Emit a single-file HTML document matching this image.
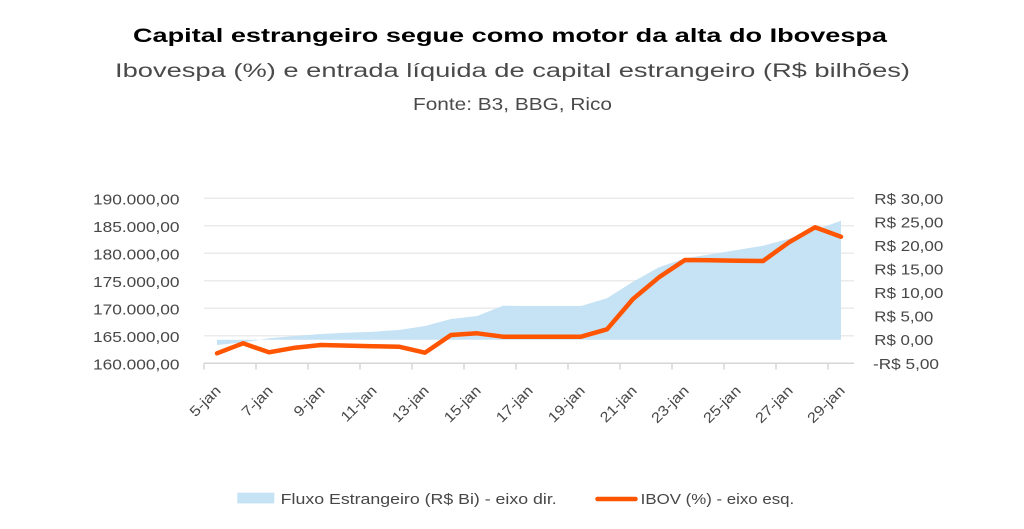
<!DOCTYPE html>
<html>
<head>
<meta charset="utf-8">
<style>
  html, body { margin: 0; padding: 0; background: #ffffff; }
  body { width: 1024px; height: 529px; overflow: hidden; }
  svg { display: block; }
  text { font-family: "Liberation Sans", "DejaVu Sans", sans-serif; }
</style>
</head>
<body>
<svg width="1024" height="529" viewBox="0 0 1024 529" xmlns="http://www.w3.org/2000/svg">
  <rect x="0" y="0" width="1024" height="529" fill="#ffffff"/>

  <!-- Titles -->
  <text x="133" y="42" font-size="19.5" font-weight="bold" fill="#000" textLength="754" lengthAdjust="spacingAndGlyphs">Capital estrangeiro segue como motor da alta do Ibovespa</text>
  <text x="115" y="77" font-size="19" fill="#4a4a4a" textLength="795" lengthAdjust="spacingAndGlyphs">Ibovespa (%) e entrada líquida de capital estrangeiro (R$ bilhões)</text>
  <text x="413" y="110" font-size="17.5" fill="#4a4a4a" textLength="199" lengthAdjust="spacingAndGlyphs">Fonte: B3, BBG, Rico</text>

  <!-- Gridlines -->
  <g stroke="#ebebeb" stroke-width="1.5">
    <line x1="204" y1="198.3" x2="854" y2="198.3"/>
    <line x1="204" y1="225.8" x2="854" y2="225.8"/>
    <line x1="204" y1="253.3" x2="854" y2="253.3"/>
    <line x1="204" y1="280.8" x2="854" y2="280.8"/>
    <line x1="204" y1="308.3" x2="854" y2="308.3"/>
    <line x1="204" y1="335.8" x2="854" y2="335.8"/>
  </g>

  <!-- Area (Fluxo estrangeiro) -->
  <polygon fill="#c6e2f5" points="
    217,339.7 217,345 243,342.5 269,338.3 295,336 321,334 347,332.7 373,331.7 399,330 425,326 451,319 477,316 503,305.7 529,306 555,306 581,306 607,298.3 633,281.7 659,267.3 685,258.3 711,254.2 737,250 763,245.7 789,238.8 815,230 841,220.7 841,339.7"/>

  <!-- X axis -->
  <g stroke="#d6d6d6" stroke-width="1.5">
    <line x1="204" y1="363.3" x2="854" y2="363.3"/>
    <line x1="204" y1="363.3" x2="204" y2="369.5"/>
    <line x1="256" y1="363.3" x2="256" y2="369.5"/>
    <line x1="308" y1="363.3" x2="308" y2="369.5"/>
    <line x1="360" y1="363.3" x2="360" y2="369.5"/>
    <line x1="412" y1="363.3" x2="412" y2="369.5"/>
    <line x1="464" y1="363.3" x2="464" y2="369.5"/>
    <line x1="516" y1="363.3" x2="516" y2="369.5"/>
    <line x1="568" y1="363.3" x2="568" y2="369.5"/>
    <line x1="620" y1="363.3" x2="620" y2="369.5"/>
    <line x1="672" y1="363.3" x2="672" y2="369.5"/>
    <line x1="724" y1="363.3" x2="724" y2="369.5"/>
    <line x1="776" y1="363.3" x2="776" y2="369.5"/>
    <line x1="828" y1="363.3" x2="828" y2="369.5"/>
  </g>

  <!-- IBOV line -->
  <polyline fill="none" stroke="#ff5500" stroke-width="4.5" stroke-linejoin="round" stroke-linecap="round" points="
    217,353.3 243,343.3 269,352.3 295,347.7 321,345 347,345.6 373,346.2 399,346.7 425,352.7 451,335 477,333.3 503,336.7 529,336.7 555,336.7 581,336.7 607,329.3 633,299 659,277.3 685,260 711,260.3 737,260.7 763,261 789,242.3 815,227.3 841,236.7"/>

  <!-- Left axis labels -->
  <g font-size="15" fill="#474747" text-anchor="end">
    <text x="179.5" y="204.3" textLength="86.5" lengthAdjust="spacingAndGlyphs">190.000,00</text>
    <text x="179.5" y="231.8" textLength="86.5" lengthAdjust="spacingAndGlyphs">185.000,00</text>
    <text x="179.5" y="259.3" textLength="86.5" lengthAdjust="spacingAndGlyphs">180.000,00</text>
    <text x="179.5" y="286.8" textLength="86.5" lengthAdjust="spacingAndGlyphs">175.000,00</text>
    <text x="179.5" y="314.3" textLength="86.5" lengthAdjust="spacingAndGlyphs">170.000,00</text>
    <text x="179.5" y="341.8" textLength="86.5" lengthAdjust="spacingAndGlyphs">165.000,00</text>
    <text x="179.5" y="369.3" textLength="86.5" lengthAdjust="spacingAndGlyphs">160.000,00</text>
  </g>

  <!-- Right axis labels -->
  <g font-size="15" fill="#474747">
    <text x="874.3" y="203.8" textLength="69" lengthAdjust="spacingAndGlyphs">R$ 30,00</text>
    <text x="874.3" y="227.4" textLength="69" lengthAdjust="spacingAndGlyphs">R$ 25,00</text>
    <text x="874.3" y="250.9" textLength="69" lengthAdjust="spacingAndGlyphs">R$ 20,00</text>
    <text x="874.3" y="274.5" textLength="69" lengthAdjust="spacingAndGlyphs">R$ 15,00</text>
    <text x="874.3" y="298.1" textLength="69" lengthAdjust="spacingAndGlyphs">R$ 10,00</text>
    <text x="874.3" y="321.6" textLength="59" lengthAdjust="spacingAndGlyphs">R$ 5,00</text>
    <text x="874.3" y="345.2" textLength="59" lengthAdjust="spacingAndGlyphs">R$ 0,00</text>
    <text x="873" y="368.8" textLength="66" lengthAdjust="spacingAndGlyphs">-R$ 5,00</text>
  </g>

  <!-- X axis labels -->
  <g font-size="14.5" fill="#474747" text-anchor="end">
    <text transform="translate(221.7,391.5) rotate(-45)" textLength="37" lengthAdjust="spacingAndGlyphs">5-jan</text>
    <text transform="translate(273.7,391.5) rotate(-45)" textLength="37" lengthAdjust="spacingAndGlyphs">7-jan</text>
    <text transform="translate(325.7,391.5) rotate(-45)" textLength="37" lengthAdjust="spacingAndGlyphs">9-jan</text>
    <text transform="translate(377.7,391.5) rotate(-45)" textLength="44" lengthAdjust="spacingAndGlyphs">11-jan</text>
    <text transform="translate(429.7,391.5) rotate(-45)" textLength="45" lengthAdjust="spacingAndGlyphs">13-jan</text>
    <text transform="translate(481.7,391.5) rotate(-45)" textLength="45" lengthAdjust="spacingAndGlyphs">15-jan</text>
    <text transform="translate(533.7,391.5) rotate(-45)" textLength="45" lengthAdjust="spacingAndGlyphs">17-jan</text>
    <text transform="translate(585.7,391.5) rotate(-45)" textLength="45" lengthAdjust="spacingAndGlyphs">19-jan</text>
    <text transform="translate(637.7,391.5) rotate(-45)" textLength="45" lengthAdjust="spacingAndGlyphs">21-jan</text>
    <text transform="translate(689.7,391.5) rotate(-45)" textLength="46" lengthAdjust="spacingAndGlyphs">23-jan</text>
    <text transform="translate(741.7,391.5) rotate(-45)" textLength="46" lengthAdjust="spacingAndGlyphs">25-jan</text>
    <text transform="translate(793.7,391.5) rotate(-45)" textLength="46" lengthAdjust="spacingAndGlyphs">27-jan</text>
    <text transform="translate(845.7,391.5) rotate(-45)" textLength="46" lengthAdjust="spacingAndGlyphs">29-jan</text>
  </g>

  <!-- Legend -->
  <rect x="237.3" y="492.7" width="37" height="10.7" fill="#c6e2f5"/>
  <text x="280.7" y="504" font-size="15" fill="#474747" textLength="276" lengthAdjust="spacingAndGlyphs">Fluxo Estrangeiro (R$ Bi) - eixo dir.</text>
  <line x1="597.5" y1="499" x2="635.5" y2="499" stroke="#ff5500" stroke-width="4.5" stroke-linecap="round"/>
  <text x="640.7" y="504" font-size="15" fill="#474747" textLength="153.5" lengthAdjust="spacingAndGlyphs">IBOV (%) - eixo esq.</text>
</svg>
</body>
</html>
